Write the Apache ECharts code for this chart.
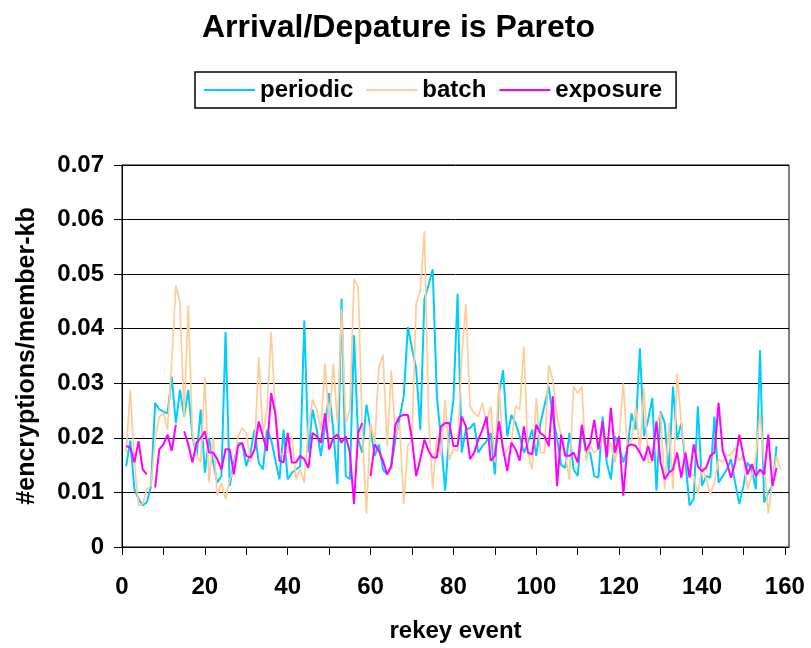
<!DOCTYPE html>
<html>
<head>
    <meta charset="utf-8">
    <title>Arrival/Depature is Pareto</title>
    <script src="https://cdn.jsdelivr.net/npm/echarts@6.0.0/dist/echarts.min.js"></script>
    <style type="text/css">
        html, body {margin: 0; padding: 0; background-color: #ffffff;}
    </style>
</head>
<body>
<div id="container" style="width: 811px;height:648px;"></div>

<script type="text/javascript">
    // values, rekey event 1..n
    var periodic = [
        0.0148,0.0195,0.0106,0.0088,0.0076,0.0082,0.0112,0.0264,0.0252,0.0248,
        0.0245,0.0312,0.0227,0.0288,0.0239,0.0288,0.0203,0.0167,0.0252,0.0136,
        0.0200,0.0155,0.0118,0.0130,0.0394,0.0112,0.0155,0.0190,0.0190,0.0148,
        0.0173,0.0215,0.0155,0.0142,0.0215,0.0197,0.0160,0.0124,0.0215,0.0124,
        0.0136,0.0142,0.0148,0.0415,0.0173,0.0252,0.0215,0.0167,0.0221,0.0282,
        0.0215,0.0115,0.0455,0.0130,0.0124,0.0388,0.0197,0.0173,0.0261,0.0215,
        0.0167,0.0188,0.0142,0.0133,0.0148,0.0197,0.0236,0.0276,0.0403,0.0364,
        0.0327,0.0215,0.0455,0.0480,0.0509,0.0276,0.0197,0.0103,0.0209,0.0270,
        0.0464,0.0173,0.0215,0.0218,0.0227,0.0173,0.0185,0.0194,0.0209,0.0133,
        0.0282,0.0324,0.0203,0.0242,0.0227,0.0203,0.0173,0.0191,0.0215,0.0167,
        0.0227,0.0260,0.0294,0.0239,0.0200,0.0150,0.0145,0.0209,0.0142,0.0130,
        0.0221,0.0173,0.0173,0.0130,0.0127,0.0239,0.0155,0.0124,0.0203,0.0185,
        0.0155,0.0179,0.0245,0.0215,0.0364,0.0203,0.0233,0.0273,0.0103,0.0248,
        0.0227,0.0136,0.0294,0.0197,0.0227,0.0155,0.0076,0.0088,0.0258,0.0112,
        0.0130,0.0127,0.0239,0.0118,0.0130,0.0142,0.0161,0.0118,0.0079,0.0112,
        0.0155,0.0142,0.0106,0.0361,0.0082,0.0100,0.0112,0.0185
    ];
    var batch = [
        0.0173,0.0288,0.0155,0.0076,0.0079,0.0106,0.0112,0.0197,0.0239,0.0245,
        0.0215,0.0340,0.0479,0.0448,0.0239,0.0442,0.0209,0.0167,0.0155,0.0312,
        0.0118,0.0203,0.0094,0.0118,0.0088,0.0124,0.0142,0.0203,0.0218,0.0209,
        0.0155,0.0179,0.0348,0.0209,0.0252,0.0394,0.0252,0.0173,0.0167,0.0173,
        0.0203,0.0124,0.0142,0.0118,0.0221,0.0270,0.0252,0.0215,0.0336,0.0227,
        0.0336,0.0227,0.0436,0.0227,0.0252,0.0491,0.0476,0.0215,0.0061,0.0227,
        0.0191,0.0330,0.0352,0.0185,0.0324,0.0203,0.0227,0.0079,0.0185,0.0197,
        0.0445,0.0470,0.0579,0.0239,0.0106,0.0203,0.0167,0.0270,0.0160,0.0179,
        0.0176,0.0348,0.0445,0.0258,0.0245,0.0239,0.0264,0.0227,0.0258,0.0155,
        0.0300,0.0167,0.0179,0.0191,0.0258,0.0252,0.0367,0.0173,0.0142,0.0273,
        0.0173,0.0173,0.0333,0.0306,0.0240,0.0203,0.0167,0.0124,0.0294,0.0282,
        0.0294,0.0158,0.0185,0.0173,0.0179,0.0203,0.0167,0.0191,0.0155,0.0203,
        0.0300,0.0179,0.0197,0.0255,0.0173,0.0291,0.0155,0.0155,0.0227,0.0245,
        0.0106,0.0227,0.0106,0.0318,0.0227,0.0167,0.0136,0.0130,0.0097,0.0148,
        0.0124,0.0097,0.0118,0.0161,0.0155,0.0167,0.0170,0.0182,0.0158,0.0167,
        0.0106,0.0130,0.0167,0.0245,0.0155,0.0061,0.0118,0.0167,0.0142
    ];
    // null = no value recorded (gap in the line)
    var exposure = [
        0.0185,0.0182,0.0155,0.0194,0.0142,0.0133,null,0.0109,0.0179,0.0188,
        0.0206,0.0176,0.0224,null,0.0212,0.0188,0.0155,0.0191,0.0200,0.0212,
        0.0173,0.0173,0.0161,0.0142,0.0179,0.0179,0.0133,0.0185,0.0191,0.0167,
        0.0164,0.0179,0.0230,0.0203,0.0176,0.0282,0.0245,0.0158,0.0155,0.0209,
        0.0155,0.0155,0.0167,0.0161,0.0145,0.0209,0.0203,0.0191,0.0245,0.0179,
        0.0200,0.0206,0.0191,0.0203,0.0173,0.0079,0.0209,0.0227,null,0.0130,
        0.0188,0.0176,0.0158,0.0133,0.0148,0.0224,0.0239,0.0242,0.0242,0.0197,
        0.0130,0.0161,0.0197,0.0176,0.0164,0.0164,0.0221,0.0227,0.0227,0.0185,
        0.0185,0.0239,0.0221,0.0161,0.0173,0.0197,0.0215,0.0239,0.0158,0.0167,
        0.0230,0.0179,0.0139,0.0191,0.0179,0.0158,0.0221,0.0173,0.0170,0.0224,
        0.0209,0.0203,0.0185,0.0276,0.0112,0.0206,0.0167,0.0167,0.0173,0.0155,
        0.0224,0.0176,0.0191,0.0233,0.0179,0.0230,0.0164,0.0255,0.0173,0.0203,
        0.0094,0.0185,0.0188,0.0185,0.0173,0.0158,0.0185,0.0158,0.0230,0.0155,
        0.0124,0.0136,0.0142,0.0173,0.0127,0.0173,0.0127,0.0188,0.0148,0.0139,
        0.0145,0.0167,0.0173,0.0264,0.0176,0.0155,0.0127,0.0155,0.0206,0.0167,
        0.0133,0.0152,0.0130,0.0142,0.0133,0.0206,0.0112,0.0145
    ];
    var xLabelValues = [0, 20, 40, 60, 80, 100, 120, 140, 160];
    var xTickValues = [0, 10, 20, 30, 40, 50, 60, 70, 80, 90, 100, 110, 120, 130, 140, 150, 160];

    function toPoints(arr) {
        return arr.map(function (v, i) {
            return [i + 1, v === null ? '-' : v];
        });
    }

    var FONT = "'Liberation Sans', Arial, sans-serif";

    var dom = document.getElementById("container");
    var myChart = echarts.init(dom);

    var option = {
        backgroundColor: '#ffffff',
        animation: false,
        title: {
            text: 'Arrival/Depature is Pareto',
            left: 202,
            top: 12,
            padding: 0,
            textStyle: {
                fontFamily: FONT,
                fontWeight: 'bold',
                fontSize: 32,
                color: '#000'
            }
        },
        legend: {
            left: 195,
            top: 72,
            padding: [6, 14, 6, 9],
            borderColor: '#000',
            borderWidth: 1.5,
            itemWidth: 51,
            itemHeight: 2,
            itemGap: 13,
            icon: 'rect',
            textStyle: {
                fontFamily: FONT,
                fontWeight: 'bold',
                fontSize: 24,
                color: '#000'
            },
            data: ['periodic', 'batch', 'exposure']
        },
        grid: {
            left: 122,
            right: 22,
            top: 165,
            bottom: 98,
            show: true,
            borderColor: '#000',
            borderWidth: 1,
            containLabel: false
        },
        xAxis: {
            type: 'value',
            min: 0,
            max: 161,
            name: 'rekey event',
            nameLocation: 'middle',
            nameGap: 72,
            nameTextStyle: {
                fontFamily: FONT,
                fontWeight: 'bold',
                fontSize: 24,
                color: '#000'
            },
            axisLine: {
                onZero: false,
                lineStyle: {color: '#000', width: 1}
            },
            axisTick: {
                show: true,
                inside: false,
                length: 8,
                customValues: xTickValues,
                lineStyle: {color: '#000', width: 1}
            },
            axisLabel: {
                margin: 28,
                customValues: xLabelValues,
                fontFamily: FONT,
                fontWeight: 'bold',
                fontSize: 24,
                color: '#000'
            },
            splitLine: {show: false}
        },
        yAxis: {
            type: 'value',
            min: 0,
            max: 0.07,
            interval: 0.01,
            name: '#encryptions/member-kb',
            nameLocation: 'middle',
            nameGap: 82,
            nameTextStyle: {
                fontFamily: FONT,
                fontWeight: 'bold',
                fontSize: 25,
                color: '#000'
            },
            axisLine: {
                show: true,
                lineStyle: {color: '#000', width: 1}
            },
            axisTick: {
                show: true,
                inside: false,
                length: 8,
                lineStyle: {color: '#000', width: 1}
            },
            axisLabel: {
                margin: 18,
                fontFamily: FONT,
                fontWeight: 'bold',
                fontSize: 24,
                color: '#000',
                formatter: function (v) {
                    return v === 0 ? '0' : v.toFixed(2);
                }
            },
            splitLine: {
                show: true,
                lineStyle: {color: '#000', width: 1}
            }
        },
        series: [
            {
                name: 'periodic',
                type: 'line',
                color: '#00CCFF',
                symbol: 'none',
                lineStyle: {width: 2},
                data: toPoints(periodic)
            },
            {
                name: 'batch',
                type: 'line',
                color: '#FFCC99',
                symbol: 'none',
                lineStyle: {width: 1.7},
                data: toPoints(batch)
            },
            {
                name: 'exposure',
                type: 'line',
                color: '#FF00FF',
                symbol: 'none',
                connectNulls: false,
                lineStyle: {width: 2},
                data: toPoints(exposure)
            }
        ]
    };

    myChart.setOption(option, true);
</script>
</body>
</html>
